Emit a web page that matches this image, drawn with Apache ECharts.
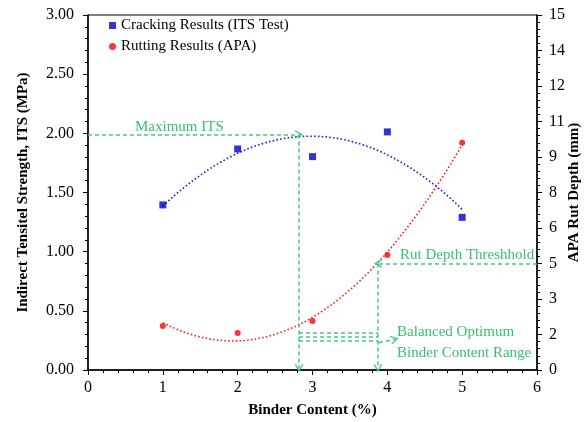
<!DOCTYPE html>
<html>
<head>
<meta charset="utf-8">
<script src="https://cdn.jsdelivr.net/npm/echarts@6/dist/echarts.min.js"></script>
<style>
  html, body { margin: 0; padding: 0; background: #fff; }
  #chart { width: 585px; height: 422px; }
</style>
</head>
<body>
<div id="chart"></div>
<script>
// Binder content (%) tested
const binderContent = [1, 2, 3, 4, 5];
// Indirect tensile strength (MPa)
const itsValues = [1.395, 1.868, 1.803, 2.012, 1.29];
// APA rut depth (mm)
const rutDepth = [1.86, 1.56, 2.07, 4.86, 9.60];

// Design annotations
const maxItsBinder = 2.82;      // binder content at maximum ITS
const maxItsValue = 1.99;       // MPa
const rutThreshold = 4.5;       // mm (right axis)
const rutLimitBinder = 3.875;   // binder content where rut curve meets threshold
const rangeBandLevels = [0.315, 0.282, 0.25]; // MPa, hatch lines of the optimum range

const FONT = 'Liberation Serif';
const GREEN_TEXT = '#00b050';
const GREEN_LINE = '#45c882';

// Least-squares quadratic fit (trend line)
function quadFit(xs, ys) {
  const n = xs.length;
  let s = [0, 0, 0, 0, 0], t = [0, 0, 0];
  for (let i = 0; i < n; i++) {
    let p = 1;
    for (let k = 0; k < 5; k++) { s[k] += p; if (k < 3) t[k] += p * ys[i]; p *= xs[i]; }
  }
  const M = [[s[0], s[1], s[2], t[0]], [s[1], s[2], s[3], t[1]], [s[2], s[3], s[4], t[2]]];
  for (let c = 0; c < 3; c++) {
    for (let r = c + 1; r < 3; r++) {
      const f = M[r][c] / M[c][c];
      for (let k = c; k < 4; k++) M[r][k] -= f * M[c][k];
    }
  }
  const a = [0, 0, 0];
  for (let r = 2; r >= 0; r--) {
    let v = M[r][3];
    for (let k = r + 1; k < 3; k++) v -= M[r][k] * a[k];
    a[r] = v / M[r][r];
  }
  return x => a[0] + a[1] * x + a[2] * x * x;
}
function trendPoints(xs, ys) {
  const f = quadFit(xs, ys);
  const lo = Math.min(...xs), hi = Math.max(...xs);
  const pts = [];
  for (let i = 0; i <= 80; i++) {
    const x = lo + (hi - lo) * i / 80;
    pts.push([x, f(x)]);
  }
  return pts;
}

// open "V" arrow head, pointing up before rotation
const ARROW = 'path://M5,0 L10,9 L8.4,9 L5,3.2 L1.6,9 L0,9 Z';
function seg(a, b, arrow) {
  return [
    { coord: a, symbol: 'none' },
    { coord: b, symbol: arrow ? ARROW : 'none', symbolSize: [9, 8] }
  ];
}

const chart = echarts.init(document.getElementById('chart'), null, { renderer: 'canvas' });

const axisText = { fontFamily: FONT, fontSize: 16, color: '#000' };
const nameText = { fontFamily: FONT, fontSize: 15, fontWeight: 'bold', color: '#000' };

const option = {
  animation: false,
  grid: {
    left: 88, right: 48, top: 15, bottom: 52,
    containLabel: false, outerBoundsMode: 'none',
    show: true, borderColor: '#000', borderWidth: 1
  },
  legend: {
    orient: 'vertical',
    left: 104, top: 13,
    itemWidth: 7, itemHeight: 7, itemGap: 6,
    textStyle: { fontFamily: FONT, fontSize: 15, color: '#000' },
    data: [
      { name: 'Cracking Results (ITS Test)', icon: 'rect' },
      { name: 'Rutting Results (APA)', icon: 'circle' }
    ]
  },
  xAxis: {
    type: 'value', min: 0, max: 6, interval: 1,
    name: 'Binder Content (%)', nameLocation: 'middle', nameGap: 33, nameMoveOverlap: false,
    nameTextStyle: nameText,
    axisLine: { lineStyle: { color: '#000', width: 1.5 } },
    axisTick: { length: 5, lineStyle: { color: '#000' } },
    minorTick: { show: true, splitNumber: 5, length: 3, lineStyle: { color: '#000' } },
    splitLine: { show: false },
    axisLabel: Object.assign({ margin: 10 }, axisText)
  },
  yAxis: [
    {
      type: 'value', min: 0, max: 3, interval: 0.5, position: 'left',
      name: 'Indirect Tensitel Strength, ITS (MPa)', nameLocation: 'middle', nameGap: 57,
      nameMoveOverlap: false,
      nameTextStyle: nameText,
      axisLine: { show: true, lineStyle: { color: '#000', width: 1.5 } },
      axisTick: { show: true, length: 5, lineStyle: { color: '#000' } },
      minorTick: { show: true, splitNumber: 5, length: 3, lineStyle: { color: '#000' } },
      splitLine: { show: false },
      axisLabel: Object.assign({ margin: 14, formatter: v => v.toFixed(2) }, axisText)
    },
    {
      type: 'value', min: 0, max: 15, interval: 1.5, position: 'right',
      name: 'APA Rut Depth (mm)', nameLocation: 'middle', nameGap: 30,
      nameMoveOverlap: false,
      nameTextStyle: nameText,
      axisLine: { show: true, lineStyle: { color: '#000', width: 1.5 } },
      axisTick: { show: true, length: 5, lineStyle: { color: '#000' } },
      minorTick: { show: true, splitNumber: 5, length: 3, lineStyle: { color: '#000' } },
      splitLine: { show: false },
      axisLabel: Object.assign({ margin: 12, formatter: v => String(Math.round(v)) }, axisText)
    }
  ],
  series: [
    {
      name: 'Cracking Results (ITS Test)', type: 'scatter', yAxisIndex: 0,
      symbol: 'rect', symbolSize: 7, itemStyle: { color: '#0000cc' },
      data: binderContent.map((x, i) => [x, itsValues[i]]), z: 5
    },
    {
      name: 'Rutting Results (APA)', type: 'scatter', yAxisIndex: 1,
      symbol: 'circle', symbolSize: 6, itemStyle: { color: '#ff0000' },
      data: binderContent.map((x, i) => [x, rutDepth[i]]), z: 5
    },
    {
      name: 'ITS trend', type: 'line', yAxisIndex: 0, showSymbol: false, smooth: false,
      lineStyle: { color: '#1a1ae6', width: 1.6, type: [1.6, 2.2] },
      data: trendPoints(binderContent, itsValues), silent: true, z: 3
    },
    {
      name: 'Rut trend', type: 'line', yAxisIndex: 1, showSymbol: false, smooth: false,
      lineStyle: { color: '#ff1a1a', width: 1.6, type: [1.6, 2.2] },
      data: trendPoints(binderContent, rutDepth), silent: true, z: 3
    },
    {
      // guide arrows on the ITS scale
      name: 'guides-its', type: 'scatter', yAxisIndex: 0, data: [], silent: true,
      markLine: {
        silent: true, animation: false, symbol: 'none',
        label: { show: false },
        lineStyle: { color: GREEN_LINE, width: 1.5, type: [4, 3] },
        data: [
          seg([0, maxItsValue], [maxItsBinder, maxItsValue], true),
          seg([maxItsBinder, maxItsValue], [maxItsBinder, 0.015], true),
          seg([rutLimitBinder, 0.9], [rutLimitBinder, 0.015], true),
          ...rangeBandLevels.map(v => seg([maxItsBinder, v], [rutLimitBinder, v], false)),
          seg([3.889, 0.231], [4.10, 0.259], true)
        ]
      }
    },
    {
      // threshold arrow on the rut depth scale
      name: 'guides-rut', type: 'scatter', yAxisIndex: 1, data: [], silent: true,
      markLine: {
        silent: true, animation: false, symbol: 'none',
        label: { show: false },
        lineStyle: { color: GREEN_LINE, width: 1.5, type: [4, 3] },
        data: [
          seg([6, rutThreshold], [rutLimitBinder, rutThreshold], true)
        ]
      }
    },
    {
      // annotation texts
      name: 'notes', type: 'scatter', yAxisIndex: 0, symbolSize: 0, silent: true,
      label: {
        show: true, position: 'right', distance: 0,
        fontFamily: FONT, fontSize: 15, color: GREEN_TEXT,
        formatter: p => p.data[2]
      },
      data: [
        [0.628, 2.054, 'Maximum ITS'],
        [4.17, 0.972, 'Rut Depth Threshhold'],
        [4.13, 0.321, 'Balanced Optimum'],
        [4.13, 0.144, 'Binder Content Range']
      ]
    }
  ]
};

chart.setOption(option);
</script>
</body>
</html>
